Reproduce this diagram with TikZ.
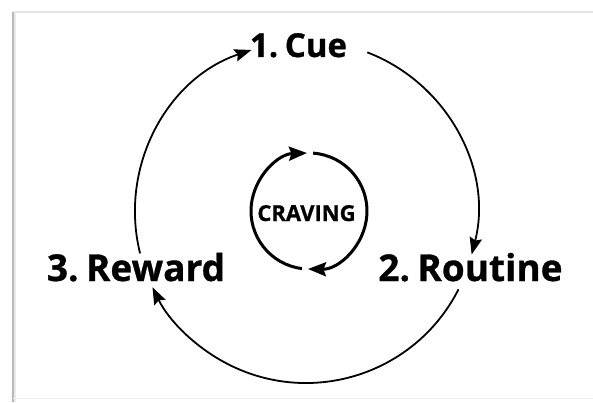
\documentclass[tikz,border=0pt]{standalone}
\usepackage{fontspec}
\setmainfont{Open Sans}
\newfontfamily\lblfont{Open Sans Bold}[FakeBold=0.8]
\usetikzlibrary{arrows.meta}
\begin{document}
\begin{tikzpicture}[x=1pt,y=1pt,
  lbl/.style={font=\lblfont\fontsize{37}{42}\selectfont, anchor=base, inner sep=0pt},
  cuelbl/.style={lbl, font=\lblfont\fontsize{33}{38}\selectfont},
  small/.style={font=\lblfont\fontsize{22}{26}\selectfont, anchor=base, inner sep=0pt},
  bigarc/.style={line width=1.8pt, -{Stealth[length=17pt,width=12.5pt,inset=2.5pt]}},
  innerarc/.style={line width=3pt, -{Stealth[length=18pt,width=14pt,inset=2.5pt]}},
  frameline/.style={line width=1.5pt, draw=black!10}
]
\useasboundingbox (0,0) rectangle (593,402);
% frame
\draw[frameline] (13,390) -- (593,390);
\draw[line width=4pt, draw=black!8] (14,390) -- (14,0);
\draw[line width=2pt, draw=black!28] (13,390) -- (13,0);
\draw[line width=1pt, draw=black!6] (13,4) -- (593,4);

% centres
\coordinate (O) at (306,190);
\coordinate (I) at (309,191);

% labels
\node[cuelbl] (cue) at (298.5,345) {1.\hspace{0.2em}Cue};
\node[lbl] (routine) at (470.5,121) {2.\hspace{0.2em}Routine};
\node[lbl] (reward) at (136,121) {3.\hspace{0.2em}Reward};
\node[small] (craving) at (306.5,181) {CRAVING};

% outer cycle
\path (O) ++(69:171) coordinate (cueR);
\path (O) ++(-26.9:171) coordinate (routineB);
\path (O) ++(194:171) coordinate (rewardT);
\draw[bigarc] (cueR) arc[start angle=69, end angle=-14.4, radius=171];
\draw[bigarc] (routineB) arc[start angle=-26.9, end angle=-153.9, radius=171];
\draw[bigarc] (rewardT) arc[start angle=194, end angle=108.6, radius=171];

% inner cycle
\path (I) ++(86:58) coordinate (innerTop);
\path (I) ++(-97:58) coordinate (innerBot);
\draw[innerarc] (innerTop) arc[start angle=86, end angle=-91, radius=58];
\draw[innerarc] (innerBot) arc[start angle=-97, end angle=-268, radius=58];
\end{tikzpicture}
\end{document}
